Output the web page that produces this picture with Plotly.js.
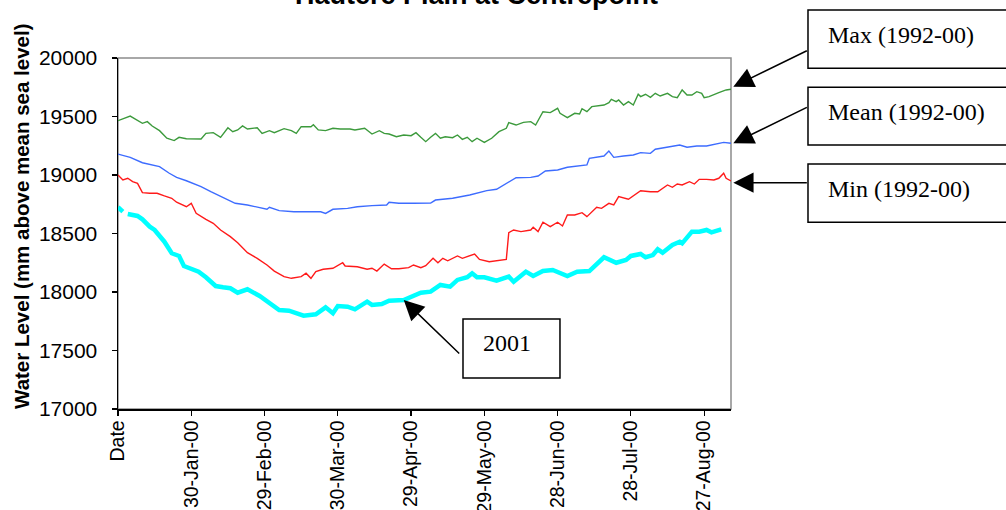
<!DOCTYPE html>
<html>
<head>
<meta charset="utf-8">
<script src="https://cdn.plot.ly/plotly-3.0.1.min.js"></script>
<style>
  html, body { margin: 0; padding: 0; background: #ffffff; }
  #chart { width: 1006px; height: 510px; }
</style>
</head>
<body>
<div id="chart"></div>
<script>
// Day offsets: 0 = first category ("Date"), 30 = 30-Jan-00, ...
const tickDays = [0, 30, 60, 90, 120, 150, 180, 210, 240];
const tickLabels = ["Date", "30-Jan-00", "29-Feb-00", "30-Mar-00", "29-Apr-00", "29-May-00", "28-Jun-00", "28-Jul-00", "27-Aug-00"];

const maxDays = [0,5,10,12,14,17,20,23,25,28,34,36,39,42,45,47,49,51,53,57,59,62,64,68,71,73,75,79,80,82,85,88,91,95,97,101,104,107,109,111,114,117,120,122,124,126,128,130,132,134,137,139,141,143,145,147,150,153,156,159,160,163,166,169,171,173,174,177,180,181,184,187,189,190,192,194,196,199,201,202,204,205,207,209,211,213,214,216,218,220,222,225,227,229,231,233,235,237,239,240,242,244,246,249,251];
const maxLevel = [19464,19504,19442,19456,19419,19379,19314,19294,19322,19310,19308,19356,19362,19322,19404,19370,19385,19419,19393,19404,19356,19379,19362,19396,19379,19356,19413,19413,19430,19385,19379,19399,19393,19393,19385,19399,19350,19379,19356,19350,19327,19342,19336,19362,19322,19285,19322,19356,19314,19327,19319,19342,19305,19322,19285,19314,19279,19314,19370,19399,19447,19427,19450,19456,19427,19498,19541,19533,19570,19527,19490,19527,19521,19567,19541,19584,19590,19598,19618,19647,19627,19641,19598,19627,19598,19690,19670,19690,19664,19698,19675,19698,19670,19661,19727,19684,19684,19712,19698,19661,19670,19684,19704,19727,19733];

const meanDays = [0,5,10,17,21,24,28,34,38,42,46,48,53,57,61,62,66,72,79,83,85,88,94,98,104,110,111,115,121,126,128,130,137,144,151,155,159,163,169,172,175,180,184,189,192,193,199,201,203,207,211,214,218,220,227,230,233,237,241,245,248,251];
const meanLevel = [19179,19151,19105,19071,19015,18980,18951,18900,18857,18815,18772,18758,18744,18724,18707,18724,18695,18686,18684,18686,18672,18707,18715,18729,18738,18744,18767,18758,18758,18755,18760,18786,18801,18829,18866,18878,18929,18977,18980,18991,19034,19043,19066,19077,19086,19143,19162,19205,19151,19162,19171,19191,19185,19220,19242,19256,19237,19248,19248,19265,19279,19271];

const minDays = [0,2,4,6,8,10,13,16,19,22,24,25,28,30,32,36,39,42,46,49,53,57,61,64,68,71,75,77,79,81,84,88,92,93,98,102,104,106,109,112,115,119,121,124,126,129,131,133,135,139,141,146,148,152,158,159,160,162,165,169,170,172,174,176,177,180,182,184,187,190,192,196,198,201,203,205,209,214,218,221,225,227,229,231,234,236,238,241,244,246,248,249,251];
const minLevel = [19000,18957,18972,18943,18929,18849,18844,18844,18821,18801,18767,18758,18729,18758,18673,18621,18587,18530,18473,18421,18336,18288,18231,18179,18131,18117,18131,18160,18117,18174,18194,18203,18250,18222,18216,18194,18203,18179,18239,18199,18199,18208,18231,18208,18225,18288,18250,18288,18267,18308,18288,18325,18279,18259,18279,18279,18507,18530,18516,18530,18553,18516,18596,18573,18559,18596,18564,18658,18658,18678,18644,18724,18715,18758,18744,18815,18793,18866,18857,18857,18915,18895,18923,18915,18943,18923,18963,18963,18957,18972,19015,18972,18949];

const y2001Days = [0,2,3,4,8,10,13,15,19,22,25,27,30,33,36,40,43,46,49,53,58,62,66,70,76,81,85,88,90,94,97,102,104,108,111,117,121,124,128,132,136,139,143,145,147,150,155,160,162,167,170,174,178,184,188,193,199,204,208,210,214,216,219,221,223,227,230,231,235,238,241,243,247];
const y2001Level = [18724,18687,null,18667,18650,18621,18558,18530,18430,18331,18308,18222,18194,18174,18126,18051,18040,18032,17994,18023,17966,17903,17846,17840,17798,17809,17869,17818,17880,17874,17852,17917,17889,17897,17926,17932,17966,17994,18003,18060,18046,18103,18126,18160,18126,18126,18097,18131,18088,18174,18137,18179,18188,18137,18174,18179,18297,18250,18274,18308,18325,18297,18316,18365,18336,18402,18430,18416,18516,18516,18530,18510,18536];

const seriesNames = ["Max (1992-00)", "Mean (1992-00)", "Min (1992-00)", "2001"];

const traces = [
  {x: maxDays, y: maxLevel, name: seriesNames[0], mode: "lines", line: {color: "#3c9a3c", width: 1.4}},
  {x: meanDays, y: meanLevel, name: seriesNames[1], mode: "lines", line: {color: "#3d6cff", width: 1.4}},
  {x: minDays, y: minLevel, name: seriesNames[2], mode: "lines", line: {color: "#ff1a1a", width: 1.4}},
  {x: y2001Days, y: y2001Level, name: seriesNames[3], mode: "lines", connectgaps: false, line: {color: "#00ffff", width: 4.5}}
];

const arrowDay = 117;
const arrowLevel = y2001Level[y2001Days.indexOf(arrowDay)];

const sans = "Liberation Sans, Arial, sans-serif";
const serif = "Liberation Serif, Times New Roman, serif";

function box(x0, x1, y0, y1) {
  return {type: "rect", xref: "paper", yref: "paper", x0: x0, x1: x1, y0: y0, y1: y1,
          line: {color: "#000000", width: 1.5}, fillcolor: "#ffffff", layer: "above"};
}
function arrow(x, y, xref, yref, ax, ay) {
  return {text: "", x: x, y: y, xref: xref, yref: yref, ax: ax, ay: ay,
          showarrow: true, arrowhead: 2, arrowsize: 2.7, arrowwidth: 1.5, arrowcolor: "#000000"};
}
function label(text, x, y, xanchor) {
  return {text: text, x: x, y: y, xref: "paper", yref: "paper", xanchor: xanchor, yanchor: "middle",
          showarrow: false, font: {family: serif, size: 24, color: "#000000"}};
}

const layout = {
  width: 1006, height: 510,
  margin: {l: 118, r: 275, t: 58, b: 101, pad: 0},
  paper_bgcolor: "#ffffff", plot_bgcolor: "#ffffff",
  showlegend: false,
  xaxis: {
    range: [0, 251], tickmode: "array", tickvals: tickDays, ticktext: tickLabels,
    tickangle: -90, ticks: "outside", ticklen: 5, tickwidth: 1.2, tickcolor: "#000000",
    showline: true, linecolor: "#000000", linewidth: 1.5, showgrid: false, zeroline: false,
    ticklabelstandoff: -3,
    tickfont: {family: sans, size: 19.5, color: "#000000"}
  },
  yaxis: {
    range: [17000, 20000], dtick: 500, tick0: 17000, tickformat: "d",
    ticks: "outside", ticklen: 5, tickwidth: 1.2, tickcolor: "#000000",
    showline: true, linecolor: "#000000", linewidth: 1.5, showgrid: false, zeroline: false,
    ticklabelstandoff: 10,
    tickfont: {family: sans, size: 21, color: "#000000"}
  },
  shapes: [
    {type: "rect", xref: "paper", yref: "paper", x0: 0, x1: 1, y0: 0, y1: 1,
     line: {color: "#8c8c8c", width: 1.5}, layer: "below"},
    box(1.1256, 1.4551, 0.9707, 1.1368),
    box(1.1256, 1.4551, 0.7521, 0.9165),
    box(1.1256, 1.4551, 0.5319, 0.6980),
    box(0.5628, 0.7210, 0.0883, 0.2564)
  ],
  annotations: [
    {text: "<b>Hautere Plain at Centrepoint</b>", xref: "paper", yref: "paper", x: 0.5856, y: 1,
     xanchor: "center", yanchor: "bottom", yshift: 46, showarrow: false,
     font: {family: sans, size: 27, color: "#000000"}},
    {text: "<b>Water Level (mm above mean sea level)</b>", xref: "paper", yref: "paper",
     x: -0.1566, y: 0.55, xanchor: "center", yanchor: "middle", textangle: -90, showarrow: false,
     font: {family: sans, size: 20.5, color: "#000000"}},
    arrow(1.0038, 0.9182, "paper", "paper", 75, -36.7),
    arrow(1.0038, 0.7570, "paper", "paper", 75, -36.6),
    arrow(1.0038, 0.6447, "paper", "paper", 75, 0),
    arrow(arrowDay, arrowLevel, "x", "y", 57, 55),
    label(seriesNames[0], 1.155, 1.0655, "left"),
    label(seriesNames[1], 1.155, 0.8461, "left"),
    label(seriesNames[2], 1.155, 0.6267, "left"),
    label(seriesNames[3], 0.634, 0.188, "center")
  ]
};

Plotly.newPlot("chart", traces, layout, {displayModeBar: false, staticPlot: true});
</script>
</body>
</html>
